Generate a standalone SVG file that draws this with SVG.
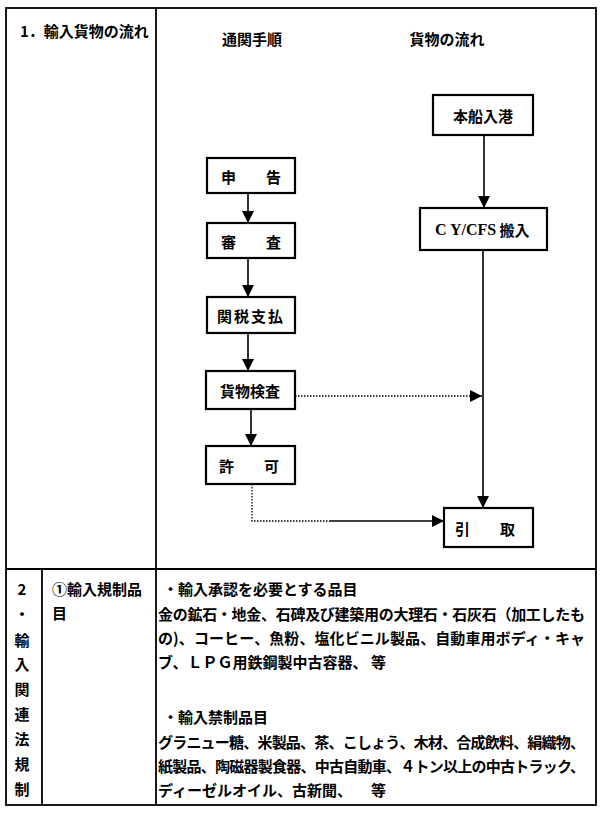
<svg xmlns="http://www.w3.org/2000/svg" width="600" height="818" viewBox="0 0 600 818">
<style>
.t{font-family:"Noto Sans CJK JP","Noto Sans CJK SC",sans-serif;font-size:15px;font-weight:bold;fill:#000;dominant-baseline:central}
.c{text-anchor:middle}
.box{fill:#fff;stroke:#000;stroke-width:2.2}
.ln{stroke:#000;stroke-width:1.6;fill:none}
.dot{stroke:#000;stroke-width:1.3;stroke-dasharray:1.5 1.5;fill:none}
.frame{stroke:#000;stroke-width:1.8;fill:none}
</style>
<defs>
<marker id="ah" markerUnits="userSpaceOnUse" markerWidth="12" markerHeight="12" refX="12" refY="6" orient="auto">
<path d="M0,0 L12,6 L0,12 Z" fill="#000"/>
</marker>
</defs>
<g id="table">
<rect class="frame" x="6" y="8" width="590" height="797"/>
<line class="frame" x1="156" y1="8" x2="156" y2="805"/>
<line class="frame" x1="6" y1="569" x2="596" y2="569"/>
<line class="frame" x1="42" y1="569" x2="42" y2="805"/>
</g>
<g id="headers">
<text class="t" x="20" y="30">1．輸入貨物の流れ</text>
<text class="t c" x="252" y="38">通関手順</text>
<text class="t c" x="447" y="38">貨物の流れ</text>
</g>
<g id="connectors">
<line class="ln" x1="248" y1="193" x2="248" y2="223" marker-end="url(#ah)"/>
<line class="ln" x1="248" y1="258" x2="248" y2="297" marker-end="url(#ah)"/>
<line class="ln" x1="248" y1="333" x2="248" y2="371" marker-end="url(#ah)"/>
<line class="ln" x1="251" y1="409" x2="251" y2="446" marker-end="url(#ah)"/>
<line class="ln" x1="484" y1="135" x2="484" y2="208" marker-end="url(#ah)"/>
<line class="ln" x1="483" y1="250" x2="483" y2="508" marker-end="url(#ah)"/>
<line class="dot" x1="295" y1="396" x2="482" y2="396" marker-end="url(#ah)"/>
<path class="dot" d="M252,484 V521 H330"/>
<line class="ln" x1="330" y1="521" x2="444" y2="521" marker-end="url(#ah)"/>
</g>
<g id="n-shinkoku"><rect class="box" x="207" y="158" width="88" height="35"/><text class="t c" x="251" y="176">申　　告</text></g>
<g id="n-shinsa"><rect class="box" x="207" y="223" width="88" height="35"/><text class="t c" x="251" y="241">審　　査</text></g>
<g id="n-kanzei"><rect class="box" x="207" y="297" width="88" height="36"/><text class="t c" x="251" y="315" letter-spacing="2">関税支払</text></g>
<g id="n-kensa"><rect class="box" x="206" y="371" width="89" height="38"/><text class="t c" x="250" y="390">貨物検査</text></g>
<g id="n-kyoka"><rect class="box" x="206" y="446" width="89" height="38"/><text class="t c" x="249" y="465">許　　可</text></g>
<g id="n-nyuko"><rect class="box" x="433" y="95" width="100" height="40"/><text class="t c" x="483" y="115">本船入港</text></g>
<g id="n-cy"><rect class="box" x="420" y="208" width="127" height="42"/><text class="t" x="435" y="229"><tspan font-family="Liberation Serif" font-size="16">C Y/CFS</tspan> 搬入</text></g>
<g id="n-hikitori"><rect class="box" x="444" y="508" width="89" height="39"/><text class="t c" x="485" y="528">引　　取</text></g>
<g id="section2">
<text class="t c" x="22" y="588">2</text>
<text class="t c" x="22" y="613">・</text>
<text class="t c" x="22" y="639">輸</text>
<text class="t c" x="22" y="663">入</text>
<text class="t c" x="22" y="688">関</text>
<text class="t c" x="22" y="713">連</text>
<text class="t c" x="22" y="738">法</text>
<text class="t c" x="22" y="763">規</text>
<text class="t c" x="22" y="788">制</text>
<text class="t" x="52" y="588">①輸入規制品</text>
<text class="t" x="52" y="612">目</text>
<text class="t" x="163" y="588">・輸入承認を必要とする品目</text>
<text class="t" x="158" y="613" textLength="427" lengthAdjust="spacing">金の鉱石・地金、石碑及び建築用の大理石・石灰石（加工したも</text>
<text class="t" x="158" y="637" textLength="427" lengthAdjust="spacing">の)、コーヒー、魚粉、塩化ビニル製品、自動車用ボディ・キャ</text>
<text class="t" x="158" y="661">ブ、ＬＰＧ用鉄鋼製中古容器、<tspan x="371">等</tspan></text>
<text class="t" x="163" y="716">・輸入禁制品目</text>
<text class="t" x="158" y="741" textLength="427" lengthAdjust="spacing">グラニュー糖、米製品、茶、こしょう、木材、合成飲料、絹織物、</text>
<text class="t" x="158" y="765" textLength="427" lengthAdjust="spacing">紙製品、陶磁器製食器、中古自動車、４トン以上の中古トラック、</text>
<text class="t" x="158" y="789">ディーゼルオイル、古新聞、<tspan x="371">等</tspan></text>
</g>
</svg>
